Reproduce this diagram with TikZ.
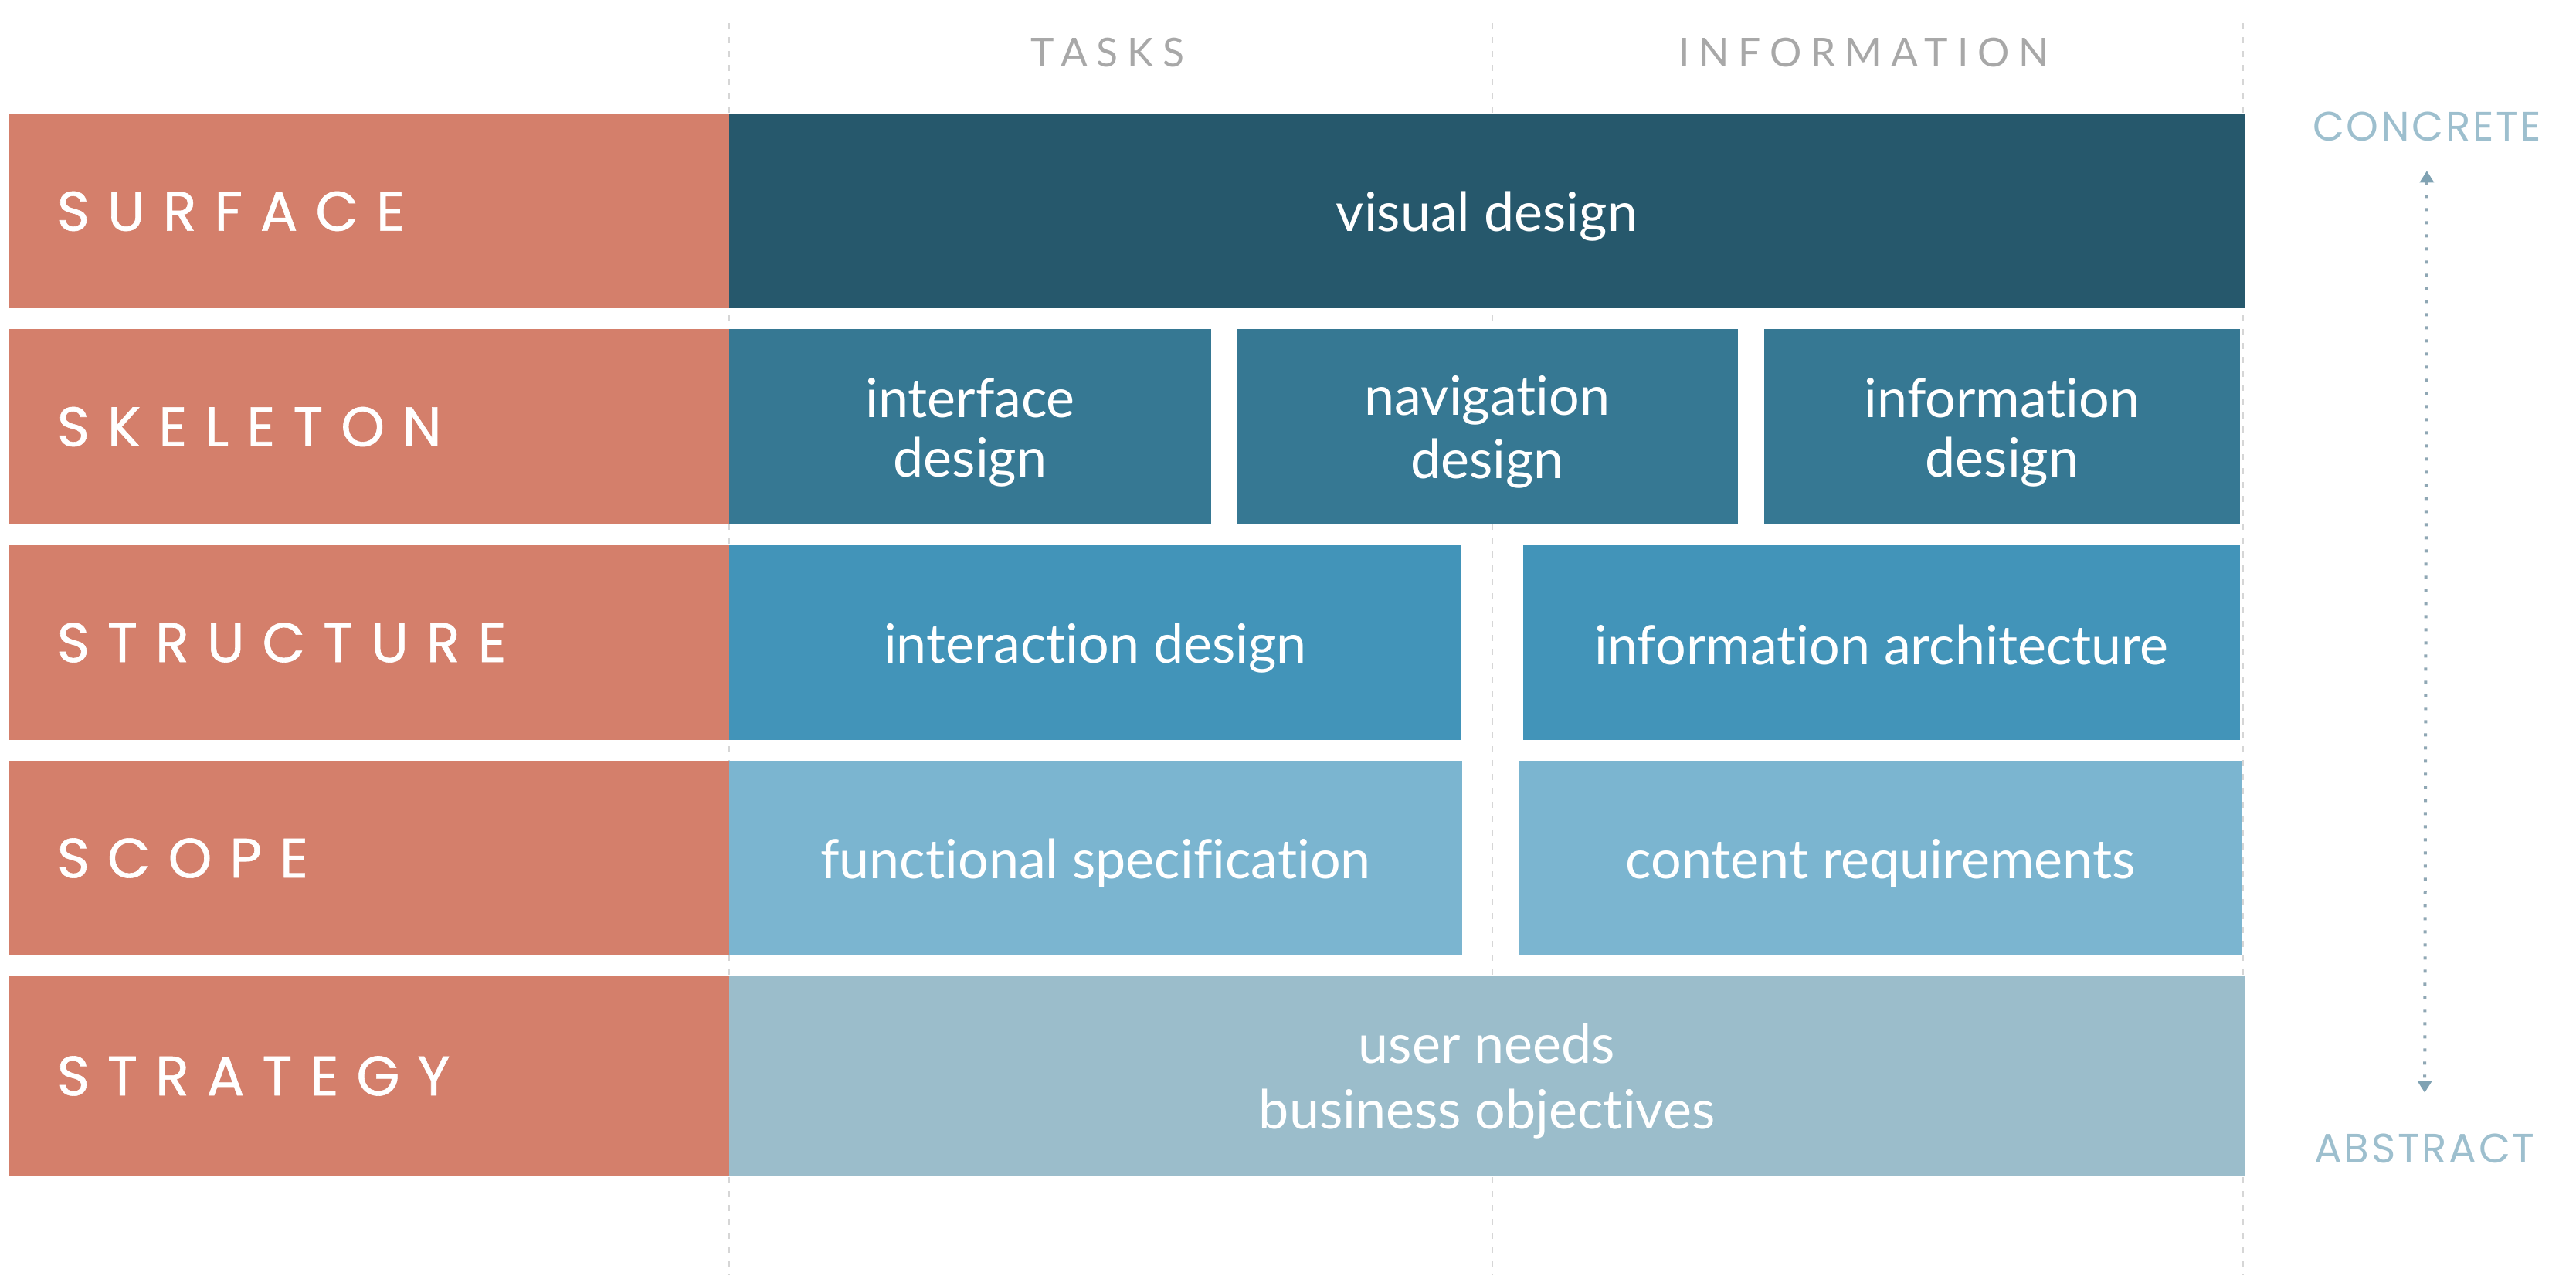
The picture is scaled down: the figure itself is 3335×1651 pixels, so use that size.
\documentclass[tikz,border=0pt]{standalone}
\usepackage{fontspec}
\setmainfont{Lato}[Ligatures={NoCommon}]
\newfontfamily\layerfont[LetterSpace=32,FakeBold=0.8]{Poppins}
\newfontfamily\headfont[LetterSpace=23]{Lato}
\newfontfamily\axisfont[LetterSpace=5]{Poppins}
\usetikzlibrary{arrows.meta}

\definecolor{layerorange}{HTML}{D47F6B}
\definecolor{surfacecol}{HTML}{26586C}
\definecolor{skeletoncol}{HTML}{367893}
\definecolor{structurecol}{HTML}{4294B9}
\definecolor{scopecol}{HTML}{7BB5D0}
\definecolor{strategycol}{HTML}{9BBDCB}
\definecolor{guidegray}{HTML}{D6D6D6}
\definecolor{headgray}{HTML}{A8A8A8}
\definecolor{axistext}{HTML}{9DBFCE}
\definecolor{axisline}{HTML}{8FA7B4}
\definecolor{axishead}{HTML}{7FA2B3}

% line strut for block labels
\newcommand\bstrut{\rule[-2.1pt]{0pt}{18.3pt}}

\begin{document}
\begin{tikzpicture}[x=0.25pt,y=-0.25pt,
  guide/.style={draw=guidegray, line width=0.4pt, dash pattern=on 2pt off 2.5pt},
  layer/.style={fill=layerorange, text=white, anchor=west,
    inner xsep=15.5pt, inner ysep=0pt, text width=202.25pt, align=left,
    minimum width=233.25pt, font=\layerfont\fontsize{18}{21}\selectfont},
  block/.style={text=white, inner sep=0pt, align=center,
    font=\fontsize{17.5}{19.25}\selectfont},
  colhead/.style={text=headgray, inner sep=0pt, font=\headfont\fontsize{12.9}{15}\selectfont},
  axislabel/.style={text=axistext, inner sep=0pt, font=\axisfont\fontsize{13.3}{15}\selectfont},
  axisarrow/.style={draw=axisline, line width=1pt, dash pattern=on 1pt off 3.25pt,
    {Triangle[width=4.5pt,length=3.8pt,color=axishead]}-{Triangle[width=4.5pt,length=3.8pt,color=axishead]},
    shorten <=9.5pt, shorten >=13pt}
]
% canvas
\path[fill=white] (0,0) rectangle (3335,1651);

% column guides
\draw[guide] (944,30) -- (944,1651);
\draw[guide] (1932,30) -- (1932,1651);
\draw[guide] (2904,30) -- (2904,1651);

% column headings
\node[colhead] (tasks) at (1434,68) {TASKS};
\node[colhead] (info) at (2413,68) {INFORMATION};

% layer names
\node[layer, minimum height=62.75pt] (lsurface)   at (11,273.5) {SURFACE};
\node[layer, minimum height=63.25pt] (lskeleton)  at (11,552.5) {SKELETON};
\node[layer, minimum height=63pt]    (lstructure) at (11,832)   {STRUCTURE};
\node[layer, minimum height=63pt]    (lscope)     at (11,1111)  {SCOPE};
\node[layer, minimum height=65pt]    (lstrategy)  at (11,1393)  {STRATEGY};

% surface
\node[block, fill=surfacecol, minimum width=490.5pt, minimum height=62.75pt]
  (visual) at (1925,273.5) {\bstrut visual design};

% skeleton
\node[block, fill=skeletoncol, minimum width=156pt, minimum height=63.25pt]
  (interface) at (1256,552.5) {\bstrut interface\\\bstrut design};
\node[block, fill=skeletoncol, minimum width=162.25pt, minimum height=63.25pt]
  (navigation) at (1925.5,552.5) {\bstrut navigation\\\bstrut design};
\node[block, fill=skeletoncol, minimum width=154pt, minimum height=63.25pt]
  (infodesign) at (2592,552.5) {\bstrut information\\\bstrut design};

% structure
\node[block, fill=structurecol, minimum width=237pt, minimum height=63pt]
  (interaction) at (1418,832) {\bstrut interaction design};
\node[block, fill=structurecol, minimum width=232pt, minimum height=63pt]
  (infoarch) at (2436,832) {\bstrut information architecture};

% scope
\node[block, fill=scopecol, minimum width=237.25pt, minimum height=63pt]
  (functional) at (1418.5,1111) {\bstrut functional specification};
\node[block, fill=scopecol, minimum width=233.75pt, minimum height=63pt]
  (content) at (2434.5,1111) {\bstrut content requirements};

% strategy
\node[block, fill=strategycol, minimum width=490.5pt, minimum height=65pt,
  font=\fontsize{17.5}{21.25}\selectfont]
  (strategy) at (1925,1393) {\bstrut user needs\\\bstrut business objectives};

% concrete / abstract axis
\node[axislabel, anchor=base] (concrete) at (3142,182) {CONCRETE};
\node[axislabel, anchor=base] (abstract) at (3139,1505) {ABSTRACT};
\draw[axisarrow] (concrete.south) -- (abstract.north);
\end{tikzpicture}
\end{document}
